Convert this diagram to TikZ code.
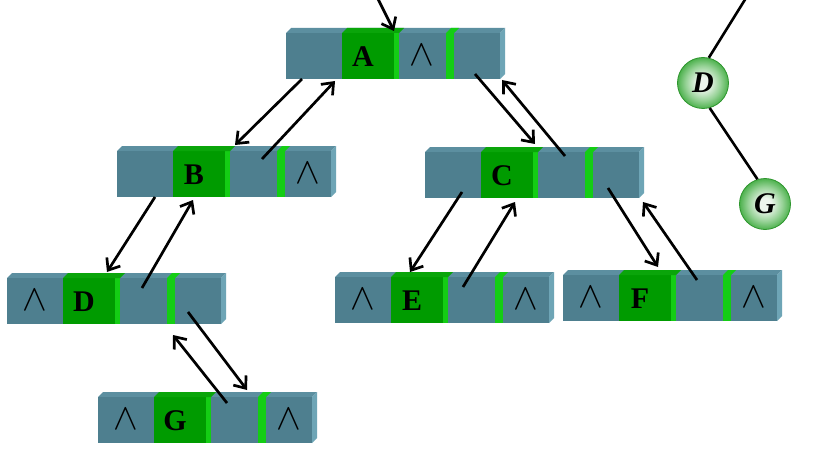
\documentclass[tikz,border=0pt]{standalone}
\usepackage{fontspec}
\usepackage{graphicx}
\setmainfont{Liberation Serif}
\usetikzlibrary{arrows.meta,calc}
\definecolor{frontc}{RGB}{78,127,143}
\definecolor{topc}{RGB}{92,143,160}
\definecolor{sidec}{RGB}{110,165,182}
\definecolor{dgreen}{RGB}{0,155,0}
\definecolor{lgreen}{RGB}{20,205,20}
\definecolor{tgreen}{RGB}{10,165,10}
\definecolor{ballin}{RGB}{238,246,238}
\definecolor{ballmid}{RGB}{150,210,150}
\definecolor{ballout}{RGB}{50,165,50}
\definecolor{ballrim}{RGB}{45,150,45}
\pgfdeclareradialshading{greenball}{\pgfpoint{0bp}{0bp}}{%
  color(0bp)=(ballin); color(6bp)=(ballin); color(17bp)=(ballmid);
  color(28bp)=(ballout); color(50bp)=(ballout); color(75bp)=(ballout)}
\tikzset{
  datatxt/.style={inner sep=0pt,font=\fontsize{30}{30}\selectfont\bfseries},
  nul/.style={inner sep=0pt},
  arr/.style={line width=2.7pt,-{Straight Barb[length=10pt,width=16pt]}},
  tline/.style={line width=2.6pt},
  ball/.style={circle,minimum size=51pt,inner sep=0pt,shading=greenball,
    draw=ballrim,line width=0.8pt,
    font=\fontsize{30}{30}\selectfont\bfseries\itshape},
  rec/.pic={
    \coordinate (-o) at (0,0);
    \fill[topc] (0,0) -- (5,-5) -- (219,-5) -- (214,0) -- cycle;
    \fill[sidec] (214,0) -- (219,-5) -- (219,41) -- (214,46) -- cycle;
    \fill[frontc] (0,0) rectangle (214,46);
    \fill[dgreen] (56,0) rectangle (108,46);
    \fill[lgreen] (108,0) rectangle (113,46);
    \fill[tgreen] (56,0) -- (61,-5) -- (118,-5) -- (113,0) -- cycle;
    \fill[lgreen] (160,0) rectangle (168,46);
    \fill[lgreen] (160,0) -- (165,-5) -- (173,-5) -- (168,0) -- cycle;
    \node[datatxt] (-data) at (77,24) {\tikzpictext};
    \coordinate (-lf) at (28,22);
    \coordinate (-par) at (136,22);
    \coordinate (-rt) at (191,22);
  }
}
\newcommand{\nullmark}{\scalebox{3.7}{$\wedge$}}
\begin{document}
\begin{tikzpicture}[x=1pt,y=-1pt]
\useasboundingbox[fill=white] (0,0) rectangle (816,476);
% records
\pic[pic text=A] (A) at (286,33) {rec};
\pic[pic text=B] (B) at (117,151) {rec};
\pic[pic text=C] (C) at (425,152) {rec};
\pic[pic text=D] (D) at (7,278) {rec};
\pic[pic text=E] (E) at (335,277) {rec};
\pic[pic text=F] (F) at (563,275) {rec};
\pic[pic text=G] (G) at (98,397) {rec};
% null markers
\node[nul] (A-n) at (A-par) {\nullmark};
\node[nul] (B-n) at (B-rt) {\nullmark};
\node[nul] (D-n) at (D-lf) {\nullmark};
\node[nul] (E-n1) at (E-lf) {\nullmark};
\node[nul] (E-n2) at (E-rt) {\nullmark};
\node[nul] (F-n1) at (F-lf) {\nullmark};
\node[nul] (F-n2) at (F-rt) {\nullmark};
\node[nul] (G-n1) at (G-lf) {\nullmark};
\node[nul] (G-n2) at (G-rt) {\nullmark};
% arrows
\coordinate (root) at (377,-3);
\draw[arr] (root) -- ($(A-o)+(108,-2)$);
\draw[arr] ($(A-o)+(16,46)$) -- ($(B-o)+(118,-6)$);
\draw[arr] ($(B-o)+(145,8)$) -- ($(A-o)+(49,48)$);
\draw[arr] ($(A-o)+(189,41)$) -- ($(C-o)+(110,-8)$);
\draw[arr] ($(C-o)+(140,4)$) -- ($(A-o)+(216,47)$);
\draw[arr] ($(B-o)+(38,46)$) -- ($(D-o)+(100,-6)$);
\draw[arr] ($(D-o)+(135,10)$) -- ($(B-o)+(76,49)$);
\draw[arr] ($(C-o)+(37,40)$) -- ($(E-o)+(75,-5)$);
\draw[arr] ($(E-o)+(128,10)$) -- ($(C-o)+(90,50)$);
\draw[arr] ($(C-o)+(183,36)$) -- ($(F-o)+(95,-8)$);
\draw[arr] ($(F-o)+(134,5)$) -- ($(C-o)+(218,50)$);
\draw[arr] ($(D-o)+(181,34)$) -- ($(G-o)+(149,-7)$);
\draw[arr] ($(G-o)+(129,6)$) -- ($(D-o)+(166,57)$);
% small tree
\node[ball] (Dc) at (703,83) {D};
\node[ball] (Gc) at (765,204) {G};
\coordinate (dtop) at (746,-2);
\draw[tline] (dtop) -- (Dc.77);
\draw[tline] (Dc.-75) -- (Gc.107);
\end{tikzpicture}
\end{document}
